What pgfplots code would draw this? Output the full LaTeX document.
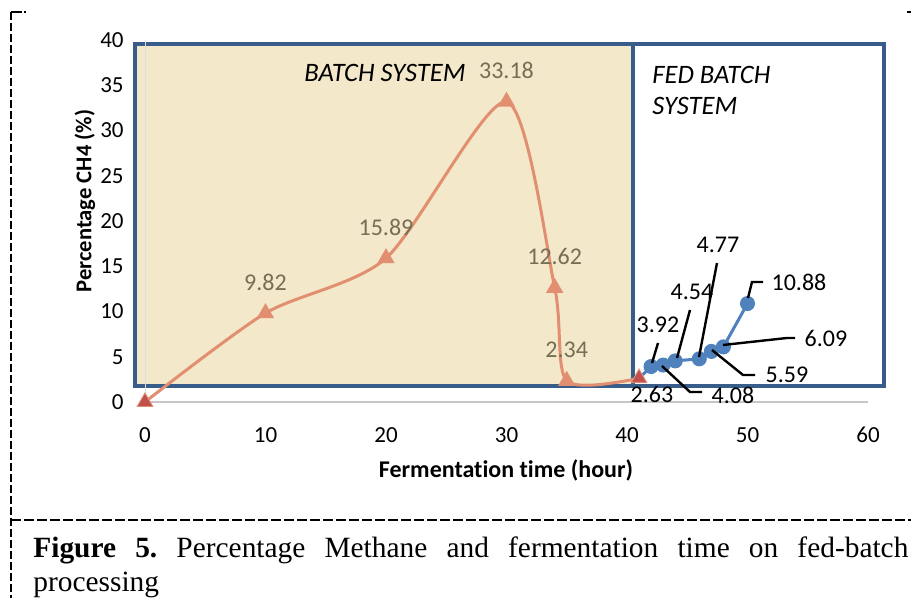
\documentclass[border=0pt]{standalone}
\usepackage{pgfplots}
\pgfplotsset{compat=1.18}
\usepackage{fontspec}
\setmainfont{Carlito}[Ligatures=NoCommon]
\newfontfamily\timesfont{Liberation Serif}

\definecolor{boxblue}{RGB}{56,93,138}
\definecolor{parch}{RGB}{243,232,201}
\definecolor{salmon}{RGB}{226,142,112}
\definecolor{darkred}{RGB}{192,80,77}
\definecolor{fedblue}{RGB}{79,129,189}
\definecolor{lblgray}{RGB}{118,110,84}

\begin{document}
\begin{tikzpicture}
% pixel grid: 1px = 0.5pt, y downwards
\begin{scope}[x=0.5pt,y=-0.5pt]
  \path[use as bounding box, fill=white] (0,0) rectangle (911,598);
  % dashed frame
  \draw[line width=1pt, dash pattern=on 4pt off 1.5pt] (11,12) -- (11,598);
  \draw[line width=1pt] (11,12) -- (22,12);
  \draw[line width=1pt] (24,12) -- (26,12);
  \draw[line width=1pt] (907,12) -- (911,12);
  \draw[line width=1pt, dash pattern=on 5pt off 1.5pt] (11,520) -- (911,520);
  % panels
  \draw[boxblue, line width=2pt, fill=parch] (135,44) rectangle (633,386);
  \draw[boxblue, line width=2pt, fill=white] (633,44) rectangle (884,386);
\end{scope}

\begin{axis}[
    at={(72.5pt,-201pt)}, anchor=south west,
    scale only axis,
    width=361.5pt, height=181pt,
    xmin=0, xmax=60, ymin=0, ymax=40,
    xtick={0,10,...,60}, ytick={0,5,...,40},
    axis x line*=bottom, axis y line*=left,
    axis line style={-},
    x axis line style={draw=gray!45, line width=1pt},
    y axis line style={draw=gray!25, line width=0.5pt},
    major tick length=0pt,
    tick label style={font=\fontsize{11.5}{13}\selectfont},
    /pgf/number format/assume math mode=true,
    xticklabel style={anchor=center, yshift=-16.5pt},
    yticklabel style={anchor=east, inner sep=0pt, xshift=-10.5pt},
    clip=false,
]
% batch system
\addplot[salmon, line width=1.5pt, smooth, tension=0.45,
    mark=triangle*, mark size=3.5pt, mark options={fill=salmon, draw=salmon}]
    coordinates {(0,0) (10,9.82) (20,15.89) (30,33.18) (34,12.62) (35,2.34) (41,2.63)};
\addplot[only marks, mark=triangle*, mark size=3.5pt, darkred]
    coordinates {(0,0) (41,2.63)};
% fed batch system
\addplot[fedblue, line width=1.5pt] coordinates {(41,2.63) (42,3.92)};
\addplot[fedblue, line width=1.5pt, mark=*, mark size=3pt, mark options={fill=fedblue}]
    coordinates {(42,3.92) (43,4.08) (44,4.54) (46,4.77) (47,5.59) (48,6.09) (50,10.88)};

% batch data labels
\begin{scope}[font=\fontsize{12}{14}\selectfont, lblgray]
  \node[yshift=15.5pt] at (axis cs:10,9.82) {9.82};
  \node[yshift=15.5pt] at (axis cs:20,15.89) {15.89};
  \node[yshift=15.5pt] at (axis cs:30,33.18) {33.18};
  \node[yshift=15.5pt] at (axis cs:34,12.62) {12.62};
  \node[yshift=15.5pt] at (axis cs:35,2.34) {2.34};
\end{scope}
\end{axis}

\begin{scope}[x=0.5pt,y=-0.5pt]
  \node[font=\fontsize{13.3}{15}\selectfont\itshape] at (385,73) {BATCH SYSTEM};
  \node[font=\fontsize{13.3}{15}\selectfont\itshape, anchor=west, inner sep=0pt] at (652,75) {FED BATCH};
  \node[font=\fontsize{13.3}{15}\selectfont\itshape, anchor=west, inner sep=0pt] at (652,106) {SYSTEM};
  % axis titles
  \node[font=\fontsize{12}{14}\selectfont\bfseries] at (506,470) {Fermentation time (hour)};
  \node[font=\fontsize{11.3}{13}\selectfont\bfseries, rotate=90] at (85,201) {Percentage CH4 (\%)};
  % fed batch data labels with leader lines
  \begin{scope}[line width=1.2pt]
    \draw (658,343) -- (652,363);
    \draw (690,310) -- (677,358);
    \draw (717,263) -- (699,357);
    \draw (748,298) -- (752,282) -- (763,282);
    \draw (723,345) -- (787,338) -- (795,338);
    \draw (712,350) -- (743,375) -- (755,375);
    \draw (662,366) -- (690,392) -- (702,392);
  \end{scope}
  \begin{scope}[font=\fontsize{12}{14}\selectfont]
    \node at (652,394) {2.63};
    \node at (658,325) {3.92};
    \node at (733,395) {4.08};
    \node at (692,292) {4.54};
    \node at (718,245) {4.77};
    \node at (787,375) {5.59};
    \node at (826,338) {6.09};
    \node at (799,282) {10.88};
  \end{scope}
  % caption
  \node[anchor=base west, inner sep=0pt, font=\timesfont\fontsize{14.7}{17}\selectfont] at (33,558)
    {\frenchspacing\makebox[437.5pt][s]{\textbf{Figure 5.} Percentage Methane and fermentation time on fed-batch}};
  \node[anchor=base west, inner sep=0pt, font=\timesfont\fontsize{14.7}{17}\selectfont] at (33,592) {processing};
\end{scope}
\end{tikzpicture}
\end{document}
